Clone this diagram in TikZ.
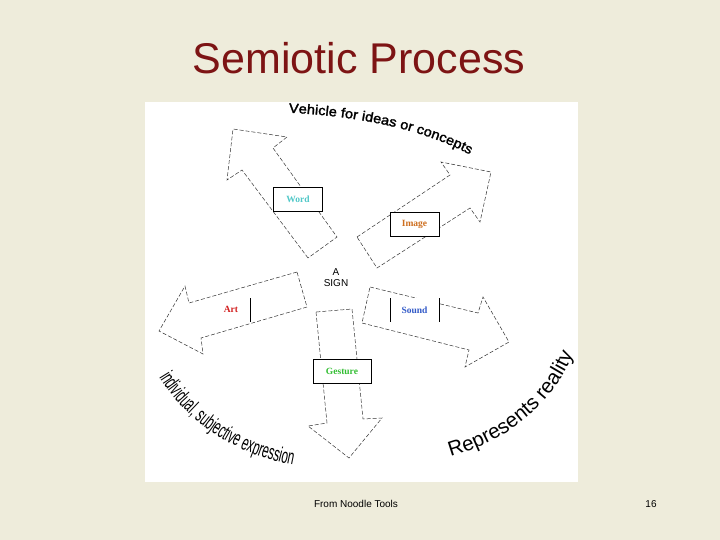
\documentclass[tikz,border=0pt]{standalone}
\usepackage{fontspec}
\setmainfont{Liberation Sans}
\newfontfamily\serifl{Liberation Serif}
\newfontfamily\narrowf[FakeStretch=0.55]{Liberation Sans}
\newfontfamily\widef[FakeStretch=1.08,FakeBold=2]{Liberation Sans}
\usetikzlibrary{decorations.text}
\definecolor{bgc}{RGB}{238,236,219}
\definecolor{titlec}{RGB}{125,20,20}
\begin{document}
\begin{tikzpicture}[x=1pt,y=-1pt,
  arr/.style={draw=black!80,dashed,dash pattern=on 4pt off 2pt,line width=0.5pt,fill=white},
  lblf/.style={font=\serifl\fontsize{9.5}{10}\selectfont\bfseries},
  lbl/.style={lblf,draw=black,fill=white,line width=0.6pt,minimum width=49pt,minimum height=24pt,inner sep=0pt}]
\fill[bgc] (0,0) rectangle (720,540);
\useasboundingbox (0,0) rectangle (720,540);
\fill[white] (145,102) rectangle (578,482);
\node[font=\fontsize{43}{46}\selectfont,text=titlec] (title) at (359,58) {Semiotic Process};
\node[font=\fontsize{10}{12}\selectfont] (foot) at (356,504) {From Noodle Tools};
\node[font=\fontsize{10}{12}\selectfont] (page) at (651,504) {16};
% arrows
\draw[arr] (308,258)--(242,170)--(227,180)--(233,129)--(287,137)--(273,148)--(337,237)--cycle;
\draw[arr] (357,237)--(450,175)--(441,162)--(491,172)--(480,222)--(470,208)--(377,268)--cycle;
\draw[arr] (297,272)--(189,303)--(185,286)--(159,331)--(203,354)--(201,338)--(307,307)--cycle;
\draw[arr] (370,287)--(478,313)--(483,297)--(509,342)--(465,367)--(469,350)--(362,323)--cycle;
\draw[arr] (316,312)--(327,423)--(308,426)--(349,458)--(382,418)--(363,419)--(352,309)--cycle;
% labels
\node[lbl,text={rgb,255:red,80;green,200;blue,200}] (word) at (298,199) {Word};
\node[lbl,text={rgb,255:red,205;green,110;blue,30}] (image) at (414.5,224) {Image};
\node[lblf,text={rgb,255:red,210;green,30;blue,30}] (art) at (231,309) {Art};
\draw[line width=0.6pt] (250,298)--(250,322);
\node[lblf,text={rgb,255:red,50;green,90;blue,200},fill=white,minimum width=48pt,minimum height=24pt,inner sep=0pt] (sound) at (414.5,310) {Sound};
\draw[line width=0.6pt] (390,298)--(390,322) (439,298)--(439,322);
\node[lbl,text={rgb,255:red,50;green,190;blue,50},minimum width=58pt] (gest) at (342,371) {Gesture};
\node[align=center,font=\fontsize{10}{11}\selectfont] (sign) at (336,278) {A\\SIGN};
% curved texts
\path[decorate,decoration={text along path,text align=center,
  text={|\widef\fontsize{13.5}{13.5}\selectfont|Vehicle for ideas or concepts}}]
  (270,112) .. controls (350,114) and (430,128) .. (486,164);
\path[decorate,decoration={text along path,text align=center,
  text={|\fontsize{20.5}{20.5}\selectfont|Represents reality}}]
  (446,458) .. controls (505,442) and (552,408) .. (575,350);
\path[decorate,decoration={text along path,text align=center,
  text={|\narrowf\fontsize{21}{21}\selectfont|individual, subjective expression}}]
  (150,360) .. controls (178,420) and (238,460) .. (312,468);
\end{tikzpicture}
\end{document}
